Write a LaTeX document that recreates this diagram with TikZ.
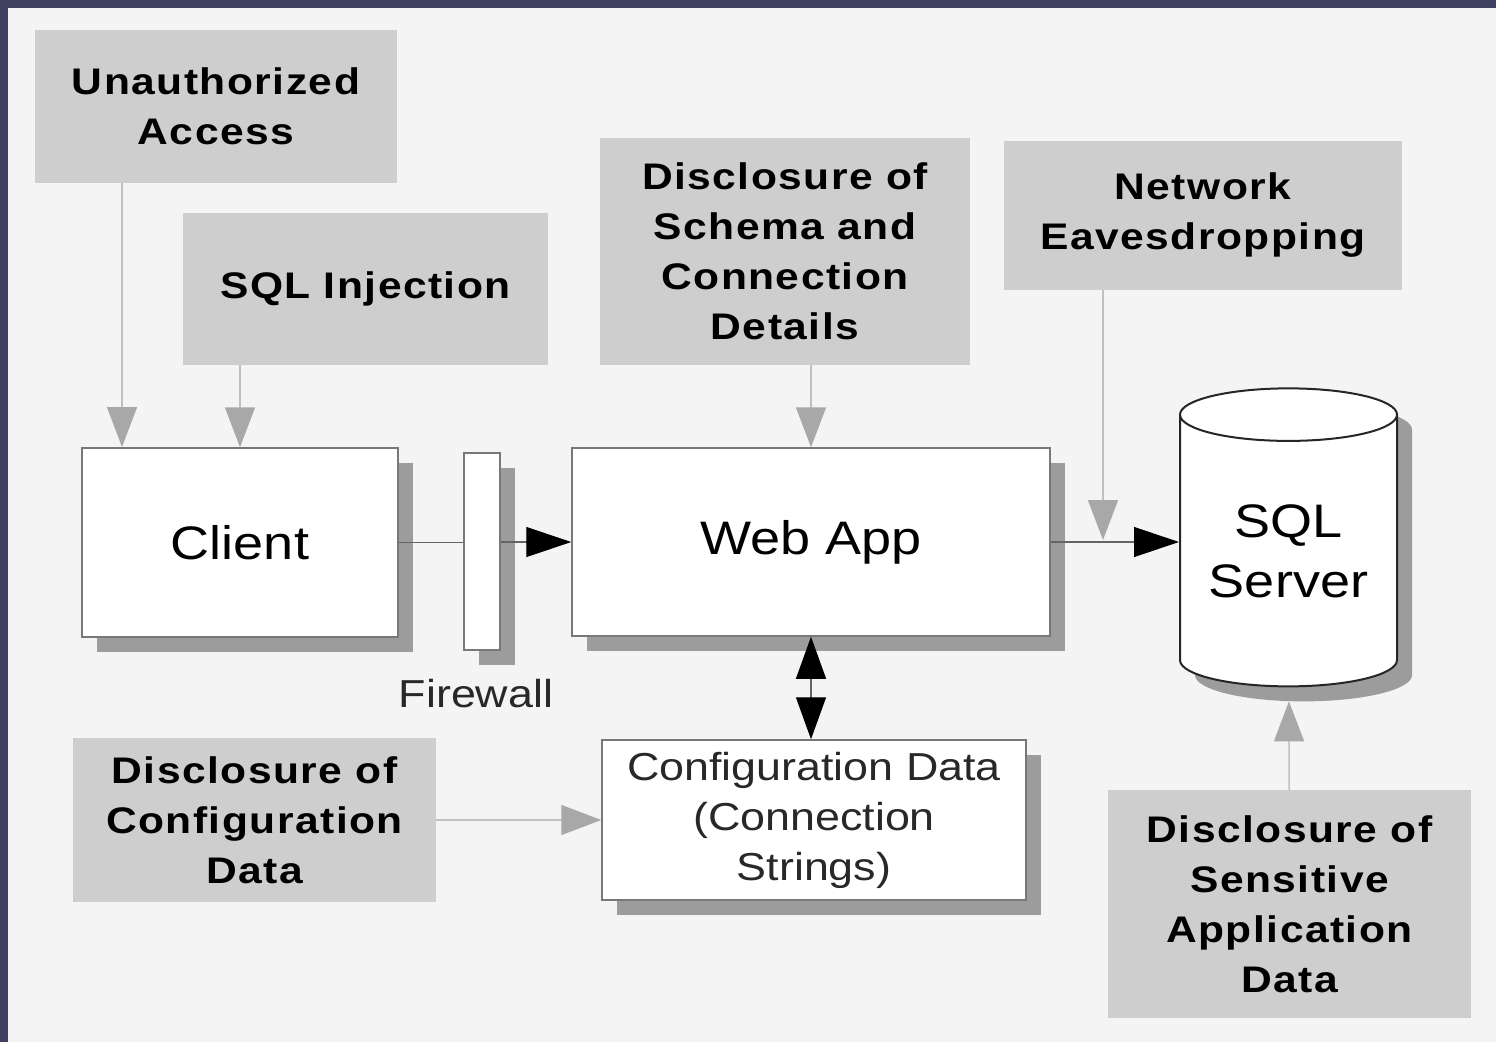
\documentclass[tikz,border=0pt]{standalone}
\usepackage{fontspec}
\newfontfamily\lblfont[FakeStretch=1.15,LetterSpace=4]{Liberation Sans}
\newfontfamily\regfont[FakeStretch=1.15]{Liberation Sans}
\usetikzlibrary{arrows.meta,shapes.geometric,shadows}
\definecolor{slidebg}{RGB}{64,64,96}
\definecolor{panel}{RGB}{244,244,244}
\definecolor{threatgray}{RGB}{206,206,206}
\definecolor{shadowgray}{RGB}{156,156,156}
\definecolor{boxborder}{RGB}{120,120,120}
\definecolor{linegray}{RGB}{192,192,192}
\definecolor{arrowgray}{RGB}{168,168,168}
\definecolor{flowline}{RGB}{100,100,100}
\definecolor{textdark}{RGB}{40,40,40}
\tikzset{
  threat/.style={fill=threatgray, inner sep=0pt, align=center, text=black,
    font=\lblfont\bfseries\fontsize{37}{50}\selectfont},
  whitebox/.style={draw=boxborder, line width=1.5pt, fill=white, inner sep=0pt, align=center,
    copy shadow={shadow xshift=15pt, shadow yshift=-15pt, draw=none, fill=shadowgray}},
  bigtext/.style={font=\regfont\fontsize{47}{60}\selectfont, text=black},
  smalltext/.style={font=\regfont\fontsize{39}{50}\selectfont, text=textdark},
  threatarrow/.style={draw=linegray, line width=1.5pt, -{Triangle[length=40pt,width=30pt,color=arrowgray]}},
  flowarrow/.style={draw=flowline, line width=1.2pt, -{Triangle[length=45pt,width=30pt,color=black]}},
  flowline/.style={draw=flowline, line width=1.2pt}
}
\begin{document}
\begin{tikzpicture}[x=1pt,y=-1pt]
\useasboundingbox (0,0) rectangle (1496,1042);
\fill[slidebg] (0,0) rectangle (1496,1042);
\fill[panel] (8,8) rectangle (1496,1042);

% threat boxes
\node[threat, minimum width=362pt, minimum height=153pt] (ua) at (216,106.5) {Unauthorized\\Access};
\node[threat, minimum width=365pt, minimum height=152pt] (sqli) at (365.5,289) {SQL Injection};
\node[threat, minimum width=370pt, minimum height=227pt] (schema) at (785,251.5) {Disclosure of\\Schema and\\Connection\\Details};
\node[threat, minimum width=398pt, minimum height=149pt] (net) at (1203,215.5) {Network\\Eavesdropping};
\node[threat, minimum width=363pt, minimum height=164pt] (dcfg) at (254.5,820) {Disclosure of\\Configuration\\Data};
\node[threat, minimum width=363pt, minimum height=228pt] (sens) at (1289.5,904) {Disclosure of\\Sensitive\\Application\\Data};

% main components
\node[whitebox, bigtext, minimum width=316pt, minimum height=189pt] (client) at (240,542.5) {Client};
\node[whitebox, minimum width=36pt, minimum height=197pt] (firewall) at (482,551.5) {};
\node[smalltext, text=textdark, anchor=center] (fwlabel) at (476,694) {Firewall};
\node[whitebox, bigtext, minimum width=478pt, minimum height=188pt] (webapp) at (811,542) {Web App};
\node[whitebox, smalltext, minimum width=424pt, minimum height=160pt] (config) at (814,820) {Configuration Data\\(Connection\\Strings)};
\node[whitebox, bigtext, draw=black!85, line width=2pt, shape=cylinder, shape border rotate=90, aspect=0.33,
  minimum width=217pt, minimum height=298pt, align=center] (sql) at (1288.5,551) {SQL\\Server};

% threat connectors
\coordinate (uaT) at (122,447);
\draw[threatarrow] (uaT |- ua.south) -- (uaT);
\draw[threatarrow] (sqli.south -| client.north) -- (client.north);
\draw[threatarrow] (schema.south -| webapp.north) -- (webapp.north);
\coordinate (netT) at (1103,540);
\draw[threatarrow] (netT |- net.south) -- (netT);
\draw[threatarrow] (dcfg) -- (config);
\draw[threatarrow, shorten >=14pt] (sens) -- (sql);

% flow connectors
\draw[flowline] (client.east) -- (client.east -| firewall.west);
\draw[flowarrow] (firewall.east |- webapp.west) -- (webapp.west);
\draw[flowarrow] (webapp) -- (webapp -| sql.west);
\draw[flowline, {Triangle[length=42pt,width=30pt,color=black]}-{Triangle[length=42pt,width=30pt,color=black]}]
  (webapp.south) -- (webapp.south |- config.north);
\end{tikzpicture}
\end{document}
